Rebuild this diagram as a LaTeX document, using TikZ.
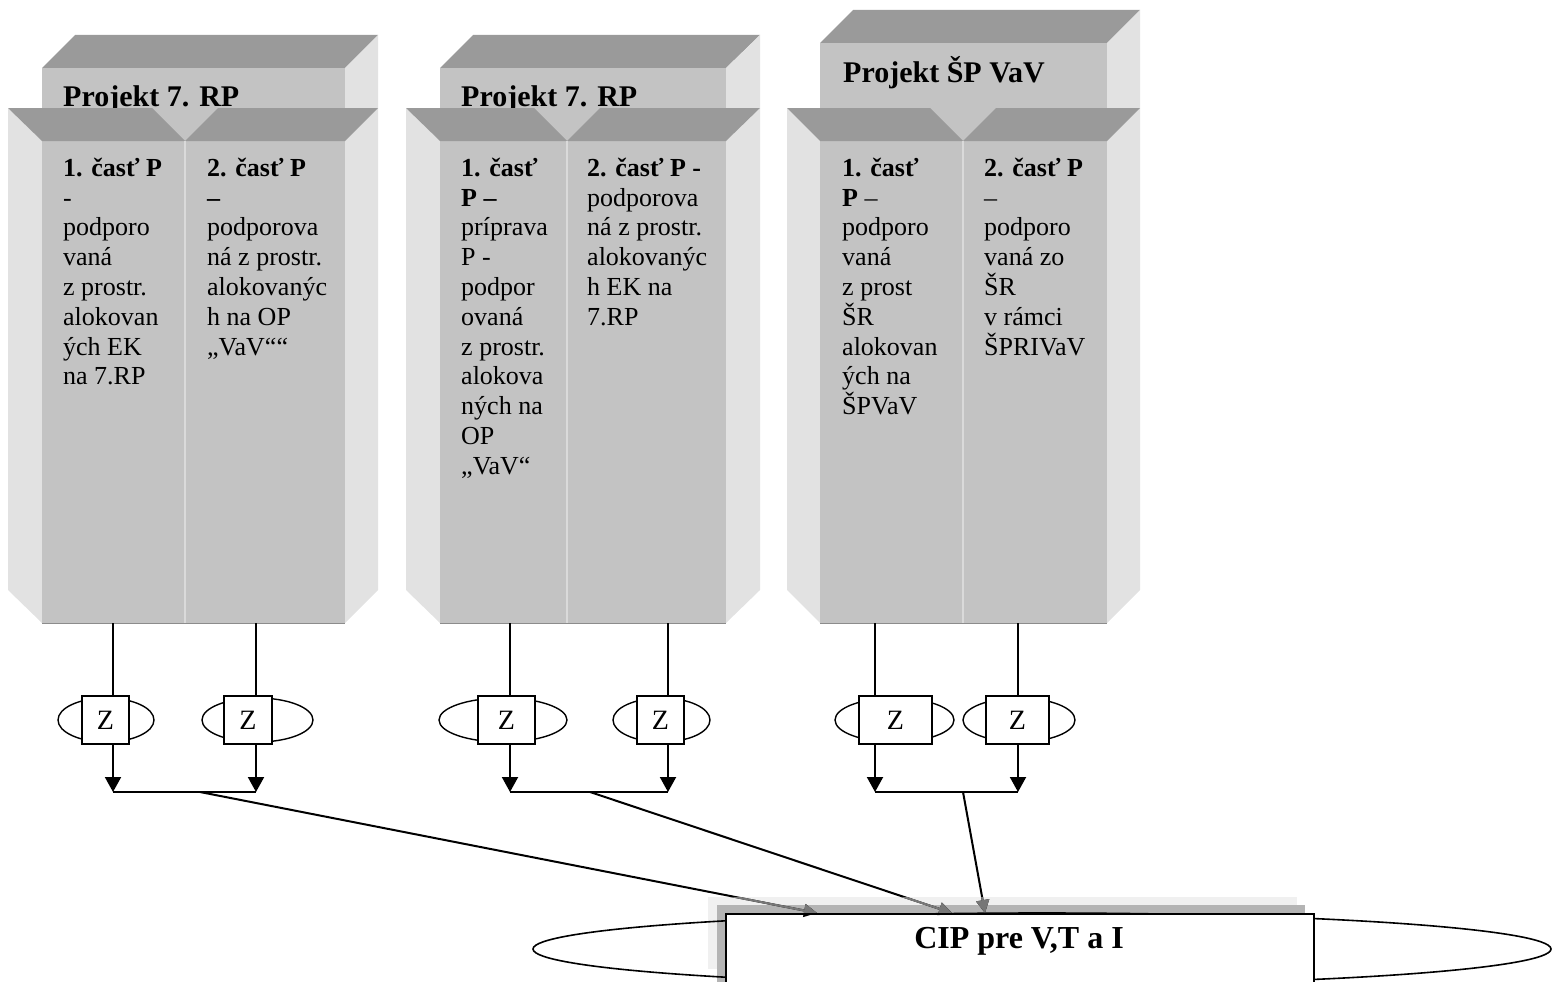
\documentclass[tikz,border=0pt]{standalone}
\usepackage{fontspec}
\setmainfont{Liberation Serif}
\usetikzlibrary{arrows.meta}
\definecolor{topc}{HTML}{9A9A9A}
\definecolor{facec}{HTML}{C3C3C3}
\definecolor{sidec}{HTML}{E2E2E2}
\definecolor{divc}{HTML}{DADADA}
\definecolor{shl}{HTML}{F0F0F0}
\definecolor{shd}{HTML}{B4B4B4}
\definecolor{arrg}{HTML}{777777}
% back block: iL iR oR bt ft
\newcommand\backblock[5]{%
 \fill[topc] (#1,#5) -- ({#1+33},#4) -- (#3,#4) -- (#2,#5) -- cycle;
 \fill[sidec] (#2,#5) -- (#3,#4) -- (#3,108) -- (#2,108) -- cycle;
 \fill[facec] (#1,#5) rectangle (#2,141);
}
% front block: oL iL M iR oR
\newcommand\frontblock[5]{%
 \fill[sidec] (#1,108) -- (#2,141) -- (#2,623) -- (#1,590) -- cycle;
 \fill[sidec] (#5,108) -- (#4,141) -- (#4,623) -- (#5,590) -- cycle;
 \fill[facec] (#2,141) rectangle (#4,623);
 \fill[topc] (#1,108) -- ({#3-33},108) -- (#3,141) -- (#2,141) -- cycle;
 \fill[topc] ({#3+33},108) -- (#5,108) -- (#4,141) -- (#3,141) -- cycle;
 \draw[divc, line width=2] (#3,141) -- (#3,623);
 \draw[black!45, line width=0.8] (#2,623) -- (#4,623);
}
\newcommand\cipconns[1]{%
 \draw[tocip,#1] (o1) -- (a1);
 \draw[tocip,#1] (o2) -- (a2);
 \draw[tocip,#1] (o3) -- (a3);
}
\tikzset{
 title/.style={anchor=base west, inner sep=0pt, font=\bfseries\fontsize{30}{32}\selectfont},
 coltext/.style={anchor=north west, inner sep=0pt, align=left, font=\fontsize{26}{29.8}\selectfont},
 zbox/.style={draw, line width=1.6, fill=white, minimum height=48, inner sep=0pt, font=\fontsize{28}{30}\selectfont},
 zell/.style={draw, line width=1.4},
 conn/.style={line width=2},
 down/.style={line width=2, -{Triangle[length=15,width=16]}},
 tocip/.style={line width=2, -{Triangle[length=13,width=13]}},
}
\begin{document}
\begin{tikzpicture}[x=1pt,y=-1pt]
\useasboundingbox (0,0) rectangle (1552,982);
% back blocks
\backblock{42}{345}{378}{35}{68}
\backblock{440}{726}{760}{35}{68}
\backblock{820}{1107}{1140}{10}{43}
% titles
\node[title] (t1) at (63,106) {Projekt 7. RP};
\node[title] (t2) at (461,106) {Projekt 7. RP};
\node[title] (t3) at (843,82) {Projekt ŠP VaV};
% front blocks
\frontblock{8}{42}{185}{345}{378}
\frontblock{406}{440}{567}{726}{760}
\frontblock{787}{820}{963}{1107}{1140}
% column texts
\node[coltext] (p11) at (63,146) {\rule{0pt}{30pt}\textbf{1. časť P}\\-\\podporo\\vaná\\z prostr.\\alokovan\\ých EK\\na 7.RP};
\node[coltext] (p12) at (207,146) {\rule{0pt}{30pt}\textbf{2. časť P}\\\textbf{–}\\podporova\\ná z prostr.\\alokovanýc\\h na OP\\„VaV““};
\node[coltext] (p21) at (461,146) {\rule{0pt}{30pt}\textbf{1. časť}\\\textbf{P –}\\príprava\\P -\\podpor\\ovaná\\z prostr.\\alokova\\ných na\\OP\\„VaV“};
\node[coltext] (p22) at (587,146) {\rule{0pt}{30pt}\textbf{2. časť P -}\\podporova\\ná z prostr.\\alokovanýc\\h EK na\\7.RP};
\node[coltext] (p31) at (842,146) {\rule{0pt}{30pt}\textbf{1. časť}\\\textbf{P} –\\podporo\\vaná\\z prost\\ŠR\\alokovan\\ých na\\ŠPVaV};
\node[coltext] (p32) at (984,146) {\rule{0pt}{30pt}\textbf{2. časť P}\\–\\podporo\\vaná zo\\ŠR\\v rámci\\ŠPRIVaV};
% Z symbols
\draw[zell] (106,720) ellipse [x radius=48, y radius=22];
\draw[zell] (257.5,720) ellipse [x radius=55.5, y radius=22];
\draw[zell] (503,720) ellipse [x radius=64, y radius=22];
\draw[zell] (661.5,720) ellipse [x radius=48.5, y radius=22];
\draw[zell] (894.5,720) ellipse [x radius=59.5, y radius=22];
\draw[zell] (1019,720) ellipse [x radius=56, y radius=22];
\node[zbox, minimum width=47] (z11) at (105.5,720) {Z};
\node[zbox, minimum width=48] (z12) at (248,720) {Z};
\node[zbox, minimum width=57] (z21) at (506.5,720) {Z};
\node[zbox, minimum width=47] (z22) at (660.5,720) {Z};
\node[zbox, minimum width=73] (z31) at (895.5,720) {Z};
\node[zbox, minimum width=63] (z32) at (1017.5,720) {Z};
% column bottoms and junctions
\coordinate (c11) at (113,623);  \coordinate (j11) at (113,792);
\coordinate (c12) at (256,623);  \coordinate (j12) at (256,792);
\coordinate (c21) at (510,623);  \coordinate (j21) at (510,792);
\coordinate (c22) at (668,623);  \coordinate (j22) at (668,792);
\coordinate (c31) at (875,623);  \coordinate (j31) at (875,792);
\coordinate (c32) at (1018,623); \coordinate (j32) at (1018,792);
\foreach \a in {11,12,21,22,31,32}{
  \draw[conn] (c\a) -- (c\a |- z\a.north);
  \draw[down] (z\a.south -| c\a) -- (j\a);
}
\draw[conn] (j11) -- (j12);
\draw[conn] (j21) -- (j22);
\draw[conn] (j31) -- (j32);
\coordinate (o1) at (200,792);
\coordinate (o2) at (590,792);
\coordinate (o3) at (963,792);
% CIP
\fill[shl] (708,897) rectangle (1297,969);
\fill[shd] (717,905) rectangle (1305,995);
\draw[line width=1.6] (1042,949) ellipse [x radius=509, y radius=36];
\node[draw, line width=2, fill=white, anchor=north west, minimum width=588, minimum height=90, inner sep=0pt] (cip) at (725,913) {};
\node[anchor=base, inner sep=0pt, font=\bfseries\fontsize{32}{34}\selectfont] (cipt) at (1019,948) {CIP pre V,T a I};
\coordinate (a1) at (817,913);
\coordinate (a2) at (952,913);
\coordinate (a3) at (985,913);
\cipconns{black}
\begin{scope}
  \clip (700,897) rectangle (1320,912);
  \cipconns{arrg}
\end{scope}
\end{tikzpicture}
\end{document}
